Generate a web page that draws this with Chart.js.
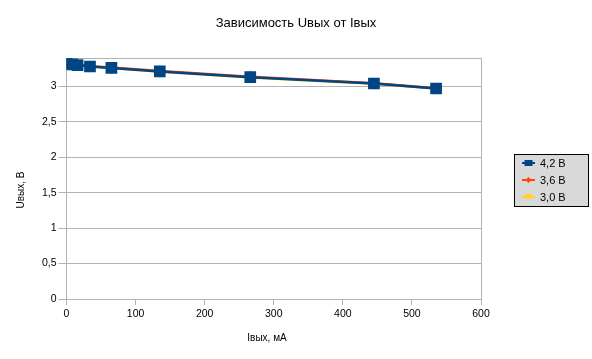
<!DOCTYPE html>
<html>
<head>
<meta charset="utf-8">
<script src="https://cdn.jsdelivr.net/npm/chart.js@4/dist/chart.umd.min.js"></script>
<style>
html,body{margin:0;padding:0;background:#fff;}
#wrap{position:relative;width:592px;height:359px;}
</style>
</head>
<body>
<div id="wrap"><canvas id="c" width="592" height="359"></canvas></div>
<script>
const chartTitle = 'Зависимость Uвых от Iвых';
const xTitle = 'Iвых, мА';
const yTitle = 'Uвых, В';
const seriesNames = ['4,2 В', '3,6 В', '3,0 В'];
const seriesColors = ['#004586', '#ff420e', '#ffd320'];
const xTicks = [0, 100, 200, 300, 400, 500, 600];
const yTicks = [0, 0.5, 1, 1.5, 2, 2.5, 3];
const yMax = 3.4;
const current42 = [0, 8, 16, 34, 65, 135, 266, 445, 535];
const voltage42 = [3.32, 3.31, 3.30, 3.28, 3.26, 3.21, 3.13, 3.04, 2.97];
const current36 = [0, 8, 16, 34, 65, 135, 266, 445, 535];
const voltage36 = [3.32, 3.31, 3.30, 3.285, 3.265, 3.218, 3.137, 3.045, 2.972];
const current30 = [0, 8, 16, 34, 65, 135, 266, 445, 535];
const voltage30 = [3.32, 3.31, 3.30, 3.28, 3.26, 3.205, 3.125, 3.036, 2.968];

const FONT = '"Liberation Sans", Arial, sans-serif';
const GRID = '#b3b3b3';
const pts = (xs, ys) => xs.map((x, i) => ({x: x, y: ys[i]}));
const fmt = v => String(v).replace('.', ',');

function drawMarker(ctx, kind, x, y, color) {
  ctx.save();
  ctx.fillStyle = color;
  ctx.beginPath();
  if (kind === 0) {
    ctx.rect(x - 4, y - 3, 8, 6);
  } else if (kind === 1) {
    ctx.moveTo(x, y - 3); ctx.lineTo(x + 3, y); ctx.lineTo(x, y + 3); ctx.lineTo(x - 3, y); ctx.closePath();
  } else {
    ctx.moveTo(x - 4, y - 3); ctx.lineTo(x + 4, y - 3); ctx.lineTo(x, y + 3); ctx.closePath();
  }
  ctx.fill();
  ctx.restore();
}

const decor = {
  id: 'decor',
  afterDraw(chart) {
    const ctx = chart.ctx;
    ctx.save();
    ctx.fillStyle = '#000';
    ctx.textAlign = 'center';
    ctx.textBaseline = 'middle';
    ctx.font = '13px ' + FONT;
    ctx.fillText(chartTitle, 296, 23);
    ctx.font = '10px ' + FONT;
    ctx.fillText(xTitle, 267, 338);
    ctx.save();
    ctx.translate(21, 190);
    ctx.rotate(-Math.PI / 2);
    ctx.fillText(yTitle, 0, 0);
    ctx.restore();
    // legend
    const lx = 514, ly = 154, lw = 74, lh = 52;
    ctx.fillStyle = '#d9d9d9';
    ctx.fillRect(lx, ly, lw, lh);
    ctx.strokeStyle = '#000';
    ctx.lineWidth = 1;
    ctx.strokeRect(lx + 0.5, ly + 0.5, lw, lh);
    const rows = [163, 180, 197];
    ctx.font = '11px ' + FONT;
    ctx.textAlign = 'left';
    for (let i = 0; i < seriesNames.length; i++) {
      const y = rows[i];
      ctx.strokeStyle = seriesColors[i];
      ctx.lineWidth = 2;
      ctx.beginPath();
      ctx.moveTo(522, y); ctx.lineTo(535, y);
      ctx.stroke();
      drawMarker(ctx, i, 528.5, y, seriesColors[i]);
      ctx.fillStyle = '#000';
      ctx.fillText(seriesNames[i], 540, y + 0.5);
    }
    ctx.restore();
  }
};

new Chart(document.getElementById('c'), {
  type: 'scatter',
  data: {
    datasets: [
      {label: seriesNames[0], data: pts(current42, voltage42), showLine: true, borderColor: seriesColors[0], backgroundColor: seriesColors[0], borderWidth: 2.5, pointStyle: 'rect', pointRadius: 6.5, pointHoverRadius: 6.5},
      {label: seriesNames[1], data: pts(current36, voltage36), showLine: true, borderColor: seriesColors[1], backgroundColor: seriesColors[1], borderWidth: 2.5, pointStyle: 'rectRot', pointRadius: 4, pointHoverRadius: 4},
      {label: seriesNames[2], data: pts(current30, voltage30), showLine: true, borderColor: seriesColors[2], backgroundColor: seriesColors[2], borderWidth: 2.5, pointStyle: 'triangle', rotation: 180, pointRadius: 4, pointHoverRadius: 4}
    ]
  },
  options: {
    responsive: false,
    animation: false,
    events: [],
    layout: {padding: {top: 58, right: 111, left: 0, bottom: 0}},
    plugins: {legend: {display: false}, title: {display: false}, tooltip: {enabled: false}},
    scales: {
      x: {
        type: 'linear', min: 0, max: 600,
        afterBuildTicks: s => { s.ticks = xTicks.map(v => ({value: v})); },
        afterFit: s => { s.height = 60; },
        ticks: {font: {family: FONT, size: 10.5}, color: '#000', padding: 3, maxRotation: 0, autoSkip: false, callback: v => fmt(v)},
        grid: {color: c => (c.tick && c.tick.value === 600) ? GRID : 'rgba(0,0,0,0)', tickColor: GRID, tickLength: 6, lineWidth: 1},
        border: {color: GRID, width: 1}
      },
      y: {
        type: 'linear', min: 0, max: yMax,
        afterBuildTicks: s => { s.ticks = yTicks.concat([yMax]).map(v => ({value: v})); },
        afterFit: s => { s.width = 66.5; },
        ticks: {font: {family: FONT, size: 10.5}, color: '#000', padding: 2, autoSkip: false, callback: v => (v === yMax ? '' : fmt(v))},
        grid: {color: GRID, tickColor: c => (c.tick && c.tick.value === yMax) ? 'rgba(0,0,0,0)' : GRID, tickLength: 8, lineWidth: 1},
        border: {color: GRID, width: 1}
      }
    }
  },
  plugins: [decor]
});
</script>
</body>
</html>
